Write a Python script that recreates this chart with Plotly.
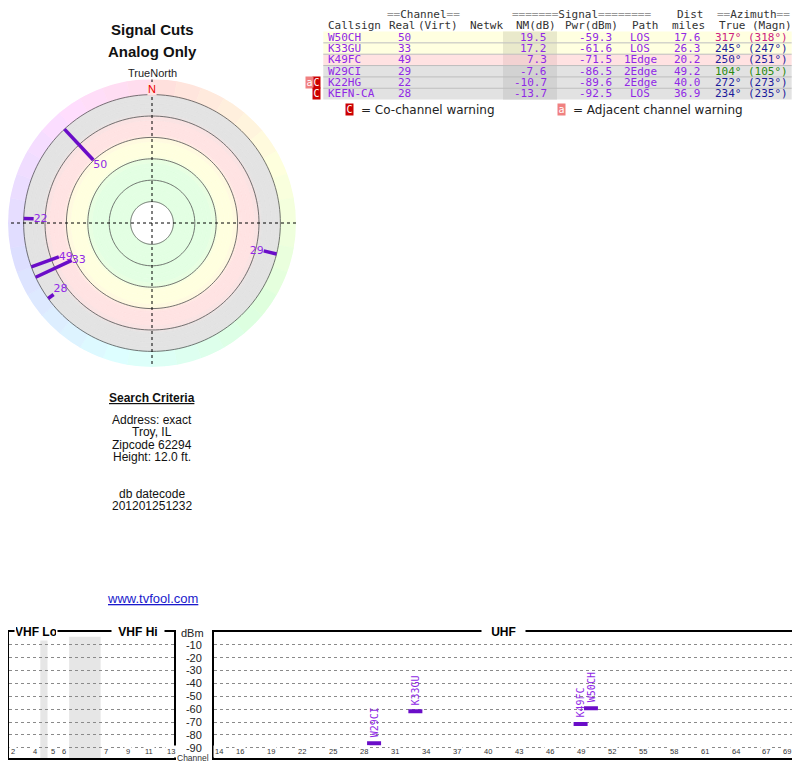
import colorsys
import plotly.graph_objects as go

# The page body has an 8px margin, so the figure is sized and offset to fit.
OFF = 8
W, H = 792, 760


def px(x):
    return (x - OFF) / W


def py(y):
    return 1 - (y - OFF) / H


# ---------------- data ----------------
callsigns = ["W50CH", "K33GU", "K49FC", "W29CI", "K22HG", "KEFN-CA"]
real_ch = [50, 33, 49, 29, 22, 28]
nm_db = [19.5, 17.2, 7.3, -7.6, -10.7, -13.7]
pwr_dbm = [-59.3, -61.6, -71.5, -86.5, -89.6, -92.5]
path = ["LOS", "LOS", "1Edge", "2Edge", "2Edge", "LOS"]
dist_mi = [17.6, 26.3, 20.2, 49.2, 40.0, 36.9]
az_true = [317, 245, 250, 104, 272, 234]
az_magn = [318, 247, 251, 105, 273, 235]
warnings = ["", "", "", "", "aC", "C"]

dbm_ticks = [-10, -20, -30, -40, -50, -60, -70, -80, -90]
vhf_channels = [2, 4, 5, 6, 7, 9, 11, 13]
uhf_channels = [14, 16, 19, 22, 25, 28, 31, 34, 37, 40, 43, 46, 49, 52, 55, 58, 61, 64, 67, 69]
nm_rings = [80, 60, 40, 20, 0, -20]
spectrum_min_nm = -10   # stations weaker than this are not drawn in the spectrum

criteria = ["Address: exact", "Troy, IL", "Zipcode 62294", "Height: 12.0 ft."]
datecode = ["db datecode", "201201251232"]

# ---------------- styles ----------------
PURPLE = "#9028e6"
LINE_PURPLE = "#6a0dc8"
SANS = "Liberation Sans"
MONO = "DejaVu Sans Mono"
NM_TOP = 100.0       # NM value at the polar centre
R_MAX = 134.6        # outer edge of compass ring (in depth units)
label_pos = ["bottom right", "middle right", "middle right", "middle left", "middle right", "top right"]

fig = go.Figure()


# ---------------- polar (signal cuts) ----------------
def depth(nm):
    return NM_TOP - nm


def hue_col(az):
    h = (az * 0.93) / 360.0
    r, g, b = colorsys.hls_to_rgb(h, 0.935, 1.0)
    return "rgb(%d,%d,%d)" % (r * 255, g * 255, b * 255)


# zone colours from the centre outwards (depth breakpoints)
zones = [(0, (255, 255, 255)), (20, (227, 255, 227)), (60, (255, 255, 223)),
         (80, (255, 227, 227)), (100, (227, 227, 227))]
BLEND = 3.0


def zone_rgb(d):
    col = zones[0][1]
    for b, c in zones:
        if d >= b:
            col = c
    # blend softly across the 60/80/100 boundaries
    for k in (2, 3, 4):
        b = zones[k][0]
        if b - BLEND <= d < b + BLEND:
            t = (d - (b - BLEND)) / (2 * BLEND)
            c0, c1 = zones[k - 1][1], zones[k][1]
            col = tuple(c0[j] + (c1[j] - c0[j]) * t for j in range(3))
    return "rgb(%d,%d,%d)" % tuple(int(round(v)) for v in col)


# build fills as one barpolar trace: fine bands near boundaries
bands = []
d = 0.0
edges = [0, 20]
x = 20.0
while x < 120:
    near = any(abs(x - b) < BLEND + 0.01 for b in (60, 80, 100))
    x = min(120.0, x + (1.0 if near else 4.0))
    edges.append(x)
rs, bs, ths, ws, cs = [], [], [], [], []
for a, b in zip(edges[:-1], edges[1:]):
    c = zone_rgb((a + b) / 2)
    for q in range(4):
        rs.append(b - a); bs.append(a); ths.append(45 + 90 * q); ws.append(90); cs.append(c)
for q in range(36):
    c = hue_col(q * 10 + 5)
    rs.append(R_MAX - 120); bs.append(120); ths.append(q * 10 + 5); ws.append(10); cs.append(c)
fig.add_trace(go.Barpolar(r=rs, base=bs, theta=ths, width=ws,
                          marker=dict(color=cs, line=dict(color=cs, width=0.6)),
                          hoverinfo="skip", showlegend=False, subplot="polar"))

thetas = list(range(0, 361, 2))
for lvl in nm_rings:
    fig.add_trace(go.Scatterpolar(
        r=[depth(lvl)] * len(thetas), theta=thetas, mode="lines",
        line=dict(color="#505050", width=0.8), hoverinfo="skip",
        showlegend=False, subplot="polar"))

for a in (0, 90):
    fig.add_trace(go.Scatterpolar(
        r=[R_MAX, 0, R_MAX], theta=[a, a, a + 180], mode="lines",
        line=dict(color="#000000", width=1, dash="dot"), hoverinfo="skip",
        showlegend=False, subplot="polar"))

for i in range(len(callsigns)):
    fig.add_trace(go.Scatterpolar(
        r=[depth(-20), depth(nm_db[i])], theta=[az_true[i], az_true[i]],
        mode="lines", line=dict(color=LINE_PURPLE, width=3.5),
        hoverinfo="skip", showlegend=False, subplot="polar"))
    fig.add_trace(go.Scatterpolar(
        r=[depth(nm_db[i])], theta=[az_true[i]], mode="text",
        text=[str(real_ch[i])], textposition=label_pos[i],
        textfont=dict(family="DejaVu Sans", size=11, color=PURPLE),
        hoverinfo="skip", showlegend=False, subplot="polar"))


# ---------------- bottom spectrum chart ----------------
def vhf_pos(ch):
    if ch <= 4:
        f = 57 + 6 * (ch - 2)
    elif ch <= 6:
        f = 79 + 6 * (ch - 5)
    else:
        f = 177 + 6 * (ch - 7)
    return f if f <= 88 else f - 68.5


Y_LO = -98
shown = [i for i in range(len(callsigns)) if nm_db[i] >= spectrum_min_nm and real_ch[i] >= 14]
fig.add_trace(go.Scatter(
    x=[real_ch[i] for i in shown], y=[pwr_dbm[i] for i in shown],
    mode="markers", xaxis="x2", yaxis="y2",
    marker=dict(symbol="line-ew", size=10, line=dict(color=LINE_PURPLE, width=4)),
    hoverinfo="skip", showlegend=False))

for i in shown:
    fig.add_annotation(
        text=callsigns[i], x=real_ch[i], y=pwr_dbm[i], xref="x2", yref="y2",
        textangle=-90, showarrow=False, xanchor="center", yanchor="bottom",
        yshift=4, font=dict(family=MONO, size=10, color=PURPLE))

for x0, x1 in ((72, 76), (88, 105.5)):
    fig.add_shape(type="rect", xref="x", yref="y", x0=x0, x1=x1, y0=Y_LO, y1=-3.7,
                  fillcolor="#e6e6e6", line=dict(width=0), layer="below")

axis_common = dict(showline=True, mirror=True, linecolor="#000", linewidth=2,
                   zeroline=False, ticks="", fixedrange=True)
BOT = 758
ydom = [py(BOT), py(632)]
fig.update_layout(
    xaxis=dict(domain=[px(9), px(173.7)], range=[54.6, 146.1], showgrid=False,
               showticklabels=False, anchor="y", **axis_common),
    yaxis=dict(domain=ydom, range=[Y_LO, 0], anchor="x", showgrid=True,
               gridcolor="#8a8a8a", griddash="dot", gridwidth=1,
               tickvals=dbm_ticks, showticklabels=False, **axis_common),
    xaxis2=dict(domain=[px(214), px(792.3)], range=[13.5, 69.5], showgrid=False,
                showticklabels=False, anchor="y2", **axis_common),
    yaxis2=dict(domain=ydom, range=[Y_LO, 0], anchor="x2", showgrid=True,
                gridcolor="#8a8a8a", griddash="dot", gridwidth=1,
                tickvals=dbm_ticks, ticktext=[str(v) for v in dbm_ticks],
                showticklabels=True, ticklabelstandoff=8,
                tickfont=dict(family=SANS, size=11, color="#222"), **axis_common),
)

for ch in vhf_channels:
    fig.add_annotation(text=str(ch), x=vhf_pos(ch), y=py(BOT), xref="x", yref="paper",
                       showarrow=False, bgcolor="white", borderpad=1,
                       font=dict(family=SANS, size=7.5, color="#333"))
for ch in uhf_channels:
    fig.add_annotation(text=str(ch), x=ch, y=py(BOT), xref="x2", yref="paper",
                       showarrow=False, bgcolor="white", borderpad=1,
                       font=dict(family=SANS, size=7.5, color="#333"))


def ann(text, x, y, size=12, color="#000", xanchor="center", family=SANS, **kw):
    fig.add_annotation(text=text, x=px(x), y=py(y), xref="paper", yref="paper",
                       showarrow=False, xanchor=xanchor, yanchor="middle",
                       font=dict(size=size, color=color, family=family), **kw)


ann("<b>VHF Lo</b>", 35.5, 632, size=12, bgcolor="white", width=40)
ann("<b>VHF Hi</b>", 138, 632, size=12, bgcolor="white", width=50)
ann("<b>UHF</b>", 503, 632, size=12, bgcolor="white", width=41)
ann("dBm", 192.5, 632.5, size=11, color="#222")
ann("Channel", 193, BOT, size=8.5, color="#333")

# ---------------- titles / criteria ----------------
ann("<b>Signal Cuts</b>", 152, 30, size=15, color="#111")
ann("<b>Analog Only</b>", 152, 51, size=15, color="#111")
ann("TrueNorth", 152, 73.5, size=11, color="#222", bgcolor="white", borderpad=0)
ann("N", 152, 89, size=11, color="#ee0000", bgcolor="#ffe2e2", borderpad=0)

ann("<b><u>Search Criteria</u></b>", 152, 398, size=12, color="#111")
for k, t in enumerate(criteria):
    ann(t, 152, 420 + 12.4 * k, size=12, color="#111")
for k, t in enumerate(datecode):
    ann(t, 152, 494 + 12.4 * k, size=12, color="#111")
ann("<u>www.tvfool.com</u>", 152, 598, size=13, color="#1a1acc")

# ---------------- station table ----------------
ROW_TOP, ROW_H = 31.5, 11.35
TX0, TX1 = 323.3, 791.7
NMX0, NMX1 = 503, 557
GRAY_EQ = "#999999"


def row_colors(nm):
    if nm >= 10:
        return "#ffffe0", "#e9e9cb"
    if nm >= 0:
        return "#ffe2e2", "#f2d2d2"
    return "#e2e2e2", "#d2d2d2"


def az_color(az):
    if 60 <= az < 160:
        return "#2a8a10"
    if 160 <= az < 300:
        return "#1c1c9c"
    return "#cc2080"


for i in range(len(callsigns)):
    y0 = ROW_TOP + ROW_H * i
    bg, shade = row_colors(nm_db[i])
    fig.add_shape(type="rect", xref="paper", yref="paper", x0=px(TX0), x1=px(TX1),
                  y0=py(y0 + ROW_H), y1=py(y0), fillcolor=bg, line=dict(width=0), layer="below")
    fig.add_shape(type="rect", xref="paper", yref="paper", x0=px(NMX0), x1=px(NMX1),
                  y0=py(y0 + ROW_H), y1=py(y0), fillcolor=shade, line=dict(width=0), layer="below")
for i in range(1, len(callsigns)):
    yl = ROW_TOP + ROW_H * i
    fig.add_shape(type="line", xref="paper", yref="paper", x0=px(TX0), x1=px(TX1),
                  y0=py(yl), y1=py(yl), line=dict(color="#bdbdbd", width=1), layer="below")

TS = 11


def eq(s):
    return "<span style='color:%s'>%s</span>" % (GRAY_EQ, s)


ann(eq("==") + "Channel" + eq("=="), 423.5, 14, size=TS, color="#333", family=MONO)
ann(eq("=======") + "Signal" + eq("========"), 581, 14, size=TS, color="#333", family=MONO)
ann("Dist", 690, 14, size=TS, color="#333", family=MONO)
ann(eq("==") + "Azimuth" + eq("=="), 753.5, 14, size=TS, color="#333", family=MONO)

headers = [("Callsign", 326), ("Real", 387), ("(Virt)", 416), ("Netwk", 468),
           ("NM(dB)", 514), ("Pwr(dBm)", 563), ("Path", 630), ("miles", 670),
           ("True", 717), ("(Magn)", 750)]
for t, x in headers:
    ann(t, x, 25.5, size=TS, color="#333", family=MONO, xanchor="left")

for i in range(len(callsigns)):
    yc = ROW_TOP + ROW_H * (i + 0.5)
    ann(callsigns[i], 326, yc, size=TS, color=PURPLE, family=MONO, xanchor="left")
    ann(str(real_ch[i]), 413, yc, size=TS, color=PURPLE, family=MONO, xanchor="right")
    ann("%.1f" % nm_db[i], 548.5, yc, size=TS, color=PURPLE, family=MONO, xanchor="right")
    ann("%.1f" % pwr_dbm[i], 614, yc, size=TS, color=PURPLE, family=MONO, xanchor="right")
    ann(path[i], 640, yc, size=TS, color=PURPLE, family=MONO, xanchor="center")
    ann("%.1f" % dist_mi[i], 703, yc, size=TS, color=PURPLE, family=MONO, xanchor="right")
    ac = az_color(az_true[i])
    ann("%d°" % az_true[i], 743.5, yc, size=TS, color=ac, family=MONO, xanchor="right")
    ann("(%d°)" % az_magn[i], 790, yc, size=TS, color=ac, family=MONO, xanchor="right")
    xw = 316.5
    for flag in reversed(warnings[i]):
        col = "#cc0000" if flag == "C" else "#f08080"
        ann(flag, xw, yc, size=10, color="white", family=MONO, bgcolor=col,
            borderpad=0, width=7, height=11)
        xw -= 7

ann("C", 349.3, 109, size=10, color="white", family=MONO, bgcolor="#cc0000",
    borderpad=0, width=7, height=11)
ann("= Co-channel warning", 359, 109.5, size=12, color="#222", family="DejaVu Sans", xanchor="left")
ann("a", 561, 109, size=10, color="white", family=MONO, bgcolor="#f08080",
    borderpad=0, width=7, height=11)
ann("= Adjacent channel warning", 571, 109.5, size=12, color="#222", family="DejaVu Sans", xanchor="left")

fig.update_layout(
    width=W, height=H, margin=dict(l=0, r=0, t=0, b=0),
    paper_bgcolor="white", plot_bgcolor="white", showlegend=False,
    polar=dict(domain=dict(x=[px(8), px(296)], y=[py(367), py(79)]),
               bgcolor="rgba(0,0,0,0)", bargap=0,
               radialaxis=dict(range=[0, R_MAX], visible=False),
               angularaxis=dict(rotation=90, direction="clockwise", visible=False)),
)

fig.write_html("out.html")
